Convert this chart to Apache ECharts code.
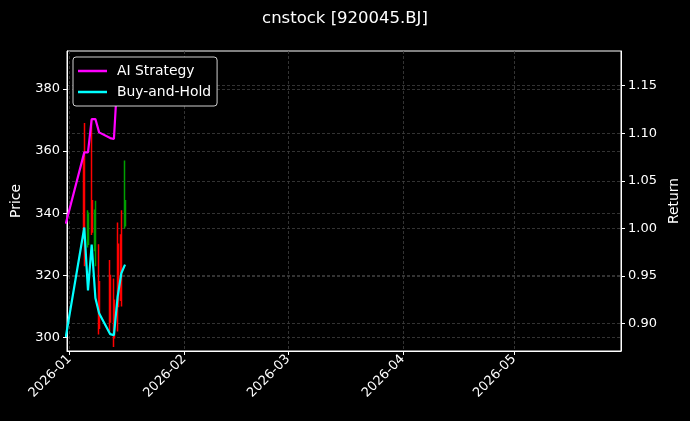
<!DOCTYPE html>
<html>
<head>
<meta charset="utf-8">
<script src="https://cdn.jsdelivr.net/npm/echarts@6/dist/echarts.min.js"></script>
<style>
html,body{margin:0;padding:0;background:#000;}
#c{width:690px;height:421px;}
</style>
</head>
<body>
<div id="c"></div>
<script>
// ---- data ----
const candleDates = ['2026-01-05','2026-01-06','2026-01-07','2026-01-08','2026-01-09','2026-01-12','2026-01-13','2026-01-14','2026-01-15','2026-01-16'];
// [open, close, low, high]
const candleOHLC = [
  [332, 358, 323, 369],
  [340, 330, 329, 341],
  [334, 344, 333, 370],
  [341, 328, 323, 344],
  [303, 318, 301, 330],
  [305, 320, 302, 325],
  [300, 312, 297, 319],
  [310, 330, 302, 337],
  [312, 333, 310, 341],
  [344, 336, 335, 357]
];
const lineDates = ['2025-12-31','2026-01-05','2026-01-06','2026-01-07','2026-01-08','2026-01-09','2026-01-12','2026-01-13','2026-01-14','2026-01-15','2026-01-16'];
const aiStrategy = [1.005, 1.080, 1.080, 1.115, 1.115, 1.101, 1.095, 1.094, 1.162, 1.172, 1.168];
const buyHold   = [0.886, 1.001, 0.935, 0.983, 0.927, 0.911, 0.889, 0.888, 0.928, 0.953, 0.962];
const xTickMonths = ['2026-01-01','2026-02-01','2026-03-01','2026-04-01','2026-05-01'];
const priceTicks = [300, 320, 340, 360, 380];
const returnTicks = [0.90, 0.95, 1.00, 1.05, 1.10, 1.15];

// ---- build ----
function ts(s){ const p=s.split('-').map(Number); return new Date(p[0],p[1]-1,p[2]).getTime(); }
const xTickVals = xTickMonths.map(ts);
const candleData = candleDates.map((d,i)=>[ts(d)].concat(candleOHLC[i]));
const aiData = lineDates.map((d,i)=>[ts(d), aiStrategy[i]]);
const bhData = lineDates.map((d,i)=>[ts(d), buyHold[i]]);
const pad = n => (n<10?'0':'')+n;
const FONT = 'DejaVu Sans';
const gridLine = {show:true, lineStyle:{color:'#404040', type:[3,2], width:0.8}};

const chart = echarts.init(document.getElementById('c'), null, {renderer:'canvas'});
chart.setOption({
  backgroundColor:'#000',
  animation:false,
  title:{text:'cnstock [920045.BJ]', left:'center', top:5,
    textStyle:{color:'#fff', fontFamily:FONT, fontSize:16.5, fontWeight:'normal'}},
  legend:{
    left:73, top:57, orient:'vertical', icon:'rect',
    backgroundColor:'#000', borderColor:'#cfcfcf', borderWidth:1, borderRadius:3,
    padding:[6,6,6,5], itemGap:5, itemWidth:29, itemHeight:2.5,
    textStyle:{color:'#fff', fontFamily:FONT, fontSize:13.9, padding:[0,0,0,5], lineHeight:16},
    data:['AI Strategy','Buy-and-Hold']
  },
  grid:{left:67, right:69, top:51, bottom:70, show:true, borderColor:'#fff', borderWidth:1, backgroundColor:'transparent'},
  xAxis:{
    type:'value',
    min: new Date(2025,11,31,8).getTime(),
    max: new Date(2026,4,29,22).getTime(),
    axisLine:{show:true, onZero:false, lineStyle:{color:'#fff'}},
    axisTick:{show:true, length:4, lineStyle:{color:'#fff'}, customValues:xTickVals},
    axisLabel:{color:'#fff', fontFamily:FONT, fontSize:13, rotate:45, margin:6,
      customValues:xTickVals, showMinLabel:true, showMaxLabel:true,
      formatter:function(v){ const d=new Date(v); return d.getFullYear()+'-'+pad(d.getMonth()+1); }},
    splitLine:gridLine
  },
  yAxis:[{
    type:'value', position:'left', min:295.7, max:392.2,
    name:'Price', nameLocation:'middle', nameRotate:90, nameGap:44,
    nameTextStyle:{color:'#fff', fontFamily:FONT, fontSize:13.9},
    axisLine:{show:true, lineStyle:{color:'#fff'}},
    axisTick:{show:true, length:4, lineStyle:{color:'#fff'}, customValues:priceTicks},
    axisLabel:{color:'#fff', fontFamily:FONT, fontSize:13, margin:7, customValues:priceTicks},
    splitLine:gridLine
  },{
    type:'value', position:'right', min:0.8713, max:1.1865,
    name:'Return', nameLocation:'middle', nameRotate:90, nameGap:44,
    nameTextStyle:{color:'#fff', fontFamily:FONT, fontSize:13.9},
    axisLine:{show:true, lineStyle:{color:'#fff'}},
    axisTick:{show:true, length:4, lineStyle:{color:'#fff'}, customValues:returnTicks},
    axisLabel:{color:'#fff', fontFamily:FONT, fontSize:13, margin:7, customValues:returnTicks,
      formatter:function(v){ return v.toFixed(2); }},
    splitLine:gridLine
  }],
  series:[{
    type:'candlestick', name:'Price', yAxisIndex:0, z:1,
    barWidth:1.5,
    data:candleData,
    itemStyle:{color:'#ff0000', color0:'#00a000', borderColor:'#ff0000', borderColor0:'#00a000', borderWidth:1.5}
  },{
    type:'line', name:'AI Strategy', yAxisIndex:1, data:aiData, symbol:'none', showSymbol:false, z:3,
    lineStyle:{color:'#ff00ff', width:2.2}, itemStyle:{color:'#ff00ff'}
  },{
    type:'line', name:'Buy-and-Hold', yAxisIndex:1, data:bhData, symbol:'none', showSymbol:false, z:3,
    lineStyle:{color:'#00ffff', width:2.2}, itemStyle:{color:'#00ffff'}
  }]
});
</script>
</body>
</html>
